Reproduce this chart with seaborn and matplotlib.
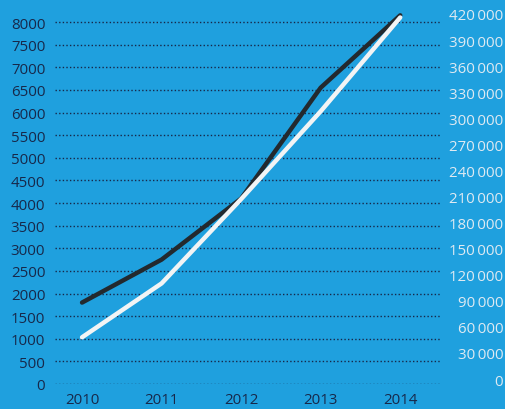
import pandas as pd
import seaborn as sns
import matplotlib.pyplot as plt

# === Daten ===
years = [2010, 2011, 2012, 2013, 2014]
dark_values = [1800, 2750, 4100, 6550, 8150]           # linke Achse
white_values = [48000, 110000, 207000, 308000, 416000]  # rechte Achse

left_ticks = list(range(0, 8001, 500))
right_ticks = list(range(0, 420001, 30000))

df = pd.DataFrame({"year": years, "dark": dark_values, "white": white_values})

# === Farben ===
bg = "#1fa0de"
navy = "#17284a"
light = "#dfeaf2"

sns.set_style("white")
plt.rcParams['font.family'] = ['Open Sans', 'DejaVu Sans']

fig = plt.figure(figsize=(5.05, 4.10), dpi=100)
fig.patch.set_facecolor(bg)
ax = fig.add_axes([55 / 505, 25 / 410, 385 / 505, 380 / 410])
ax.set_facecolor(bg)

# gepunktete Gitterlinien
for v in left_ticks:
    ax.axhline(v, color=navy, lw=1.0, ls=(0, (1, 1.6)), zorder=1)

sns.lineplot(data=df, x="year", y="dark", ax=ax, color="#23292e",
             linewidth=3.2, zorder=3)
ax.set_xlim(2009.66, 2014.5)
ax.set_ylim(0, 8400)
ax.set_yticks(left_ticks)
ax.set_yticklabels([str(v) for v in left_ticks], color=navy, fontsize=10.8)
ax.set_xticks(years)
ax.set_xticklabels([str(y) for y in years], color=navy, fontsize=10.8)
ax.tick_params(axis="y", length=0, pad=7)
ax.tick_params(axis="x", length=0, pad=6)
ax.set_xlabel("")
ax.set_ylabel("")

ax2 = ax.twinx()
sns.lineplot(data=df, x="year", y="white", ax=ax2, color="#f2f4f5",
             linewidth=3.2, zorder=2)
ax2.set_ylim(-5750, 431500)
ax2.set_yticks(right_ticks)
ax2.set_yticklabels([f"{v:,}".replace(",", "\u2009") for v in right_ticks],
                    color=light, fontsize=10.8, ha="right")
ax2.tick_params(axis="y", length=0, pad=45.5)
ax2.set_ylabel("")

for a in (ax, ax2):
    for s in a.spines.values():
        s.set_visible(False)

plt.savefig("out.png", dpi=100, facecolor=bg)
